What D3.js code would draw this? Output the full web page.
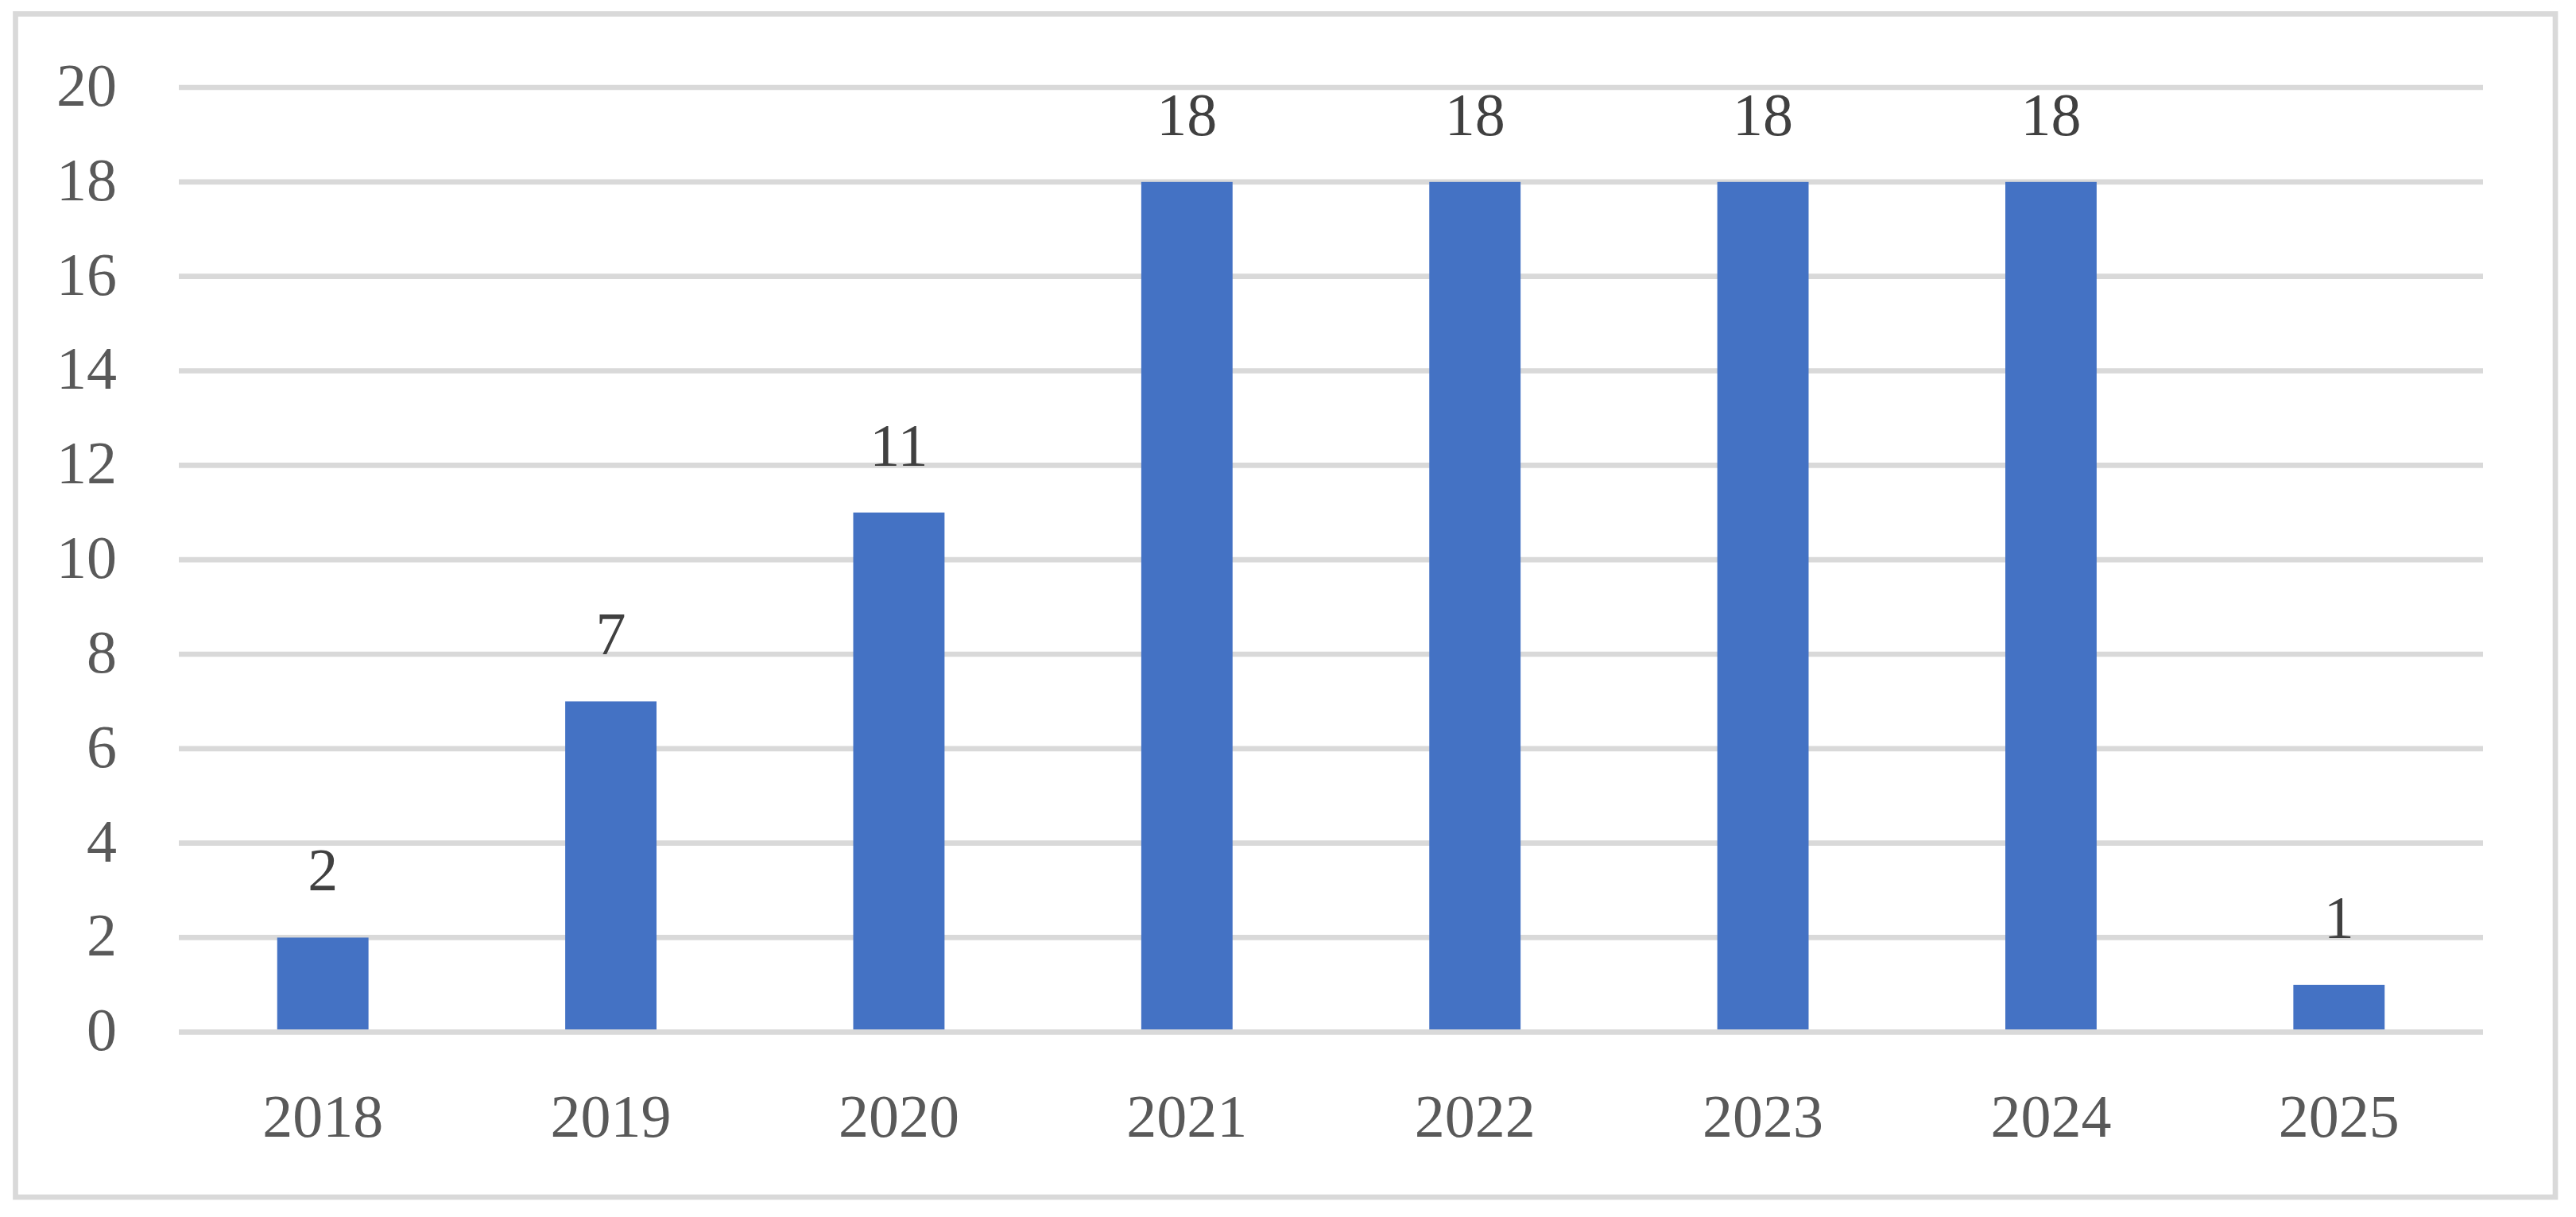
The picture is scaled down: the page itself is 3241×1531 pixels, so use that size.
<!DOCTYPE html>
<html>
<head>
<meta charset="utf-8">
<script src="https://cdn.jsdelivr.net/npm/d3@7"></script>
<style>
  html, body { margin: 0; padding: 0; background: #ffffff; }
  svg { display: block; }
</style>
</head>
<body>
<script>
const categories = ["2018", "2019", "2020", "2021", "2022", "2023", "2024", "2025"];
const values = [2, 7, 11, 18, 18, 18, 18, 1];
const yTicks = [0, 2, 4, 6, 8, 10, 12, 14, 16, 18, 20];

const W = 3241, H = 1531;
const FONT = "'Palatino Linotype', 'Book Antiqua', Palatino, 'Liberation Serif', 'DejaVu Serif', serif";

const svg = d3.select("body").append("svg")
  .attr("width", W).attr("height", H);

svg.append("rect").attr("width", W).attr("height", H).attr("fill", "#ffffff");

// outer chart border
svg.append("rect")
  .attr("x", 19.5).attr("y", 17.5)
  .attr("width", 3215 - 19.5).attr("height", 1506 - 17.5)
  .attr("fill", "none").attr("stroke", "#d9d9d9").attr("stroke-width", 6.7);

const x = d3.scaleBand().domain(categories).range([225, 3124])
  .paddingInner(0.683).paddingOuter(0.3415);
const y = d3.scaleLinear().domain([0, 20]).range([1298.3, 110]);

// gridlines
svg.append("g").selectAll("line").data(yTicks.filter(d => d !== 0)).join("line")
  .attr("x1", 225).attr("x2", 3124)
  .attr("y1", d => y(d)).attr("y2", d => y(d))
  .attr("stroke", "#d9d9d9").attr("stroke-width", 6.7);

// bars
svg.append("g").selectAll("rect").data(values).join("rect")
  .attr("x", (d, i) => x(categories[i]))
  .attr("width", x.bandwidth())
  .attr("y", d => y(d))
  .attr("height", d => y(0) - y(d))
  .attr("fill", "#4472c4");

// zero axis line on top
svg.append("line")
  .attr("x1", 225).attr("x2", 3124)
  .attr("y1", y(0)).attr("y2", y(0))
  .attr("stroke", "#d9d9d9").attr("stroke-width", 6.7);

// y tick labels
svg.append("g").selectAll("text").data(yTicks).join("text")
  .attr("x", 147).attr("y", d => y(d) + 23)
  .attr("text-anchor", "end")
  .attr("font-family", FONT).attr("font-size", 76)
  .attr("fill", "#595959")
  .text(d => d);

// x labels
svg.append("g").selectAll("text").data(categories).join("text")
  .attr("x", d => x(d) + x.bandwidth() / 2).attr("y", 1430)
  .attr("text-anchor", "middle")
  .attr("font-family", FONT).attr("font-size", 76)
  .attr("fill", "#595959")
  .text(d => d);

// data labels
svg.append("g").selectAll("text").data(values).join("text")
  .attr("x", (d, i) => x(categories[i]) + x.bandwidth() / 2)
  .attr("y", d => y(d) - 59)
  .attr("text-anchor", "middle")
  .attr("font-family", FONT).attr("font-size", 76)
  .attr("fill", "#404040")
  .text(d => d);
</script>
</body>
</html>
